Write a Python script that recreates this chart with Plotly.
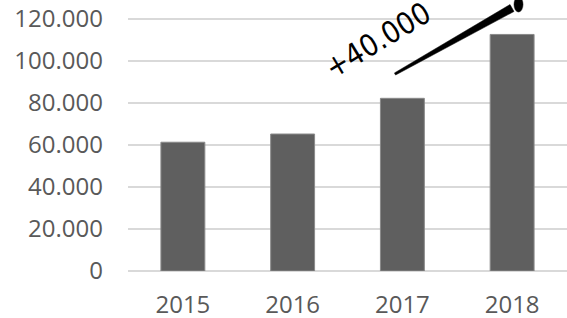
import plotly.graph_objects as go

years = ["2015", "2016", "2017", "2018"]
values = [61300, 65200, 82200, 112600]
y_ticks = [0, 20000, 40000, 60000, 80000, 100000, 120000]
note_text = "+40.000"

W, H = 567, 318
L, R, T, B = 128, 0, 0, 47
PW, PH = W - L - R, H - T - B


def pp(px, py):
    """pixel -> paper coordinates (decoration only)"""
    return (px - L) / PW, (H - B - py) / PH


fig = go.Figure()
fig.add_trace(go.Bar(
    x=years, y=values,
    marker=dict(color="#5f5f5f", line=dict(color="#8a8a8a", width=1)),
    hoverinfo="skip",
))

# tapered hand-drawn stroke
start, end = (395, 74), (512, 8)
dx, dy = end[0] - start[0], end[1] - start[1]
ln = (dx * dx + dy * dy) ** 0.5
nx, ny = -dy / ln, dx / ln
pts = [
    (start[0] + nx * 1.2, start[1] + ny * 1.2),
    (end[0] + nx * 4.0, end[1] + ny * 4.0),
    (end[0] - nx * 4.0, end[1] - ny * 4.0),
    (start[0] - nx * 1.2, start[1] - ny * 1.2),
]
path = "M " + " L ".join("%.4f,%.4f" % pp(*p) for p in pts) + " Z"
fig.add_shape(type="path", path=path, xref="paper", yref="paper",
              fillcolor="black", line=dict(color="black", width=0.5))
bx0, by0 = pp(514, 12)
bx1, by1 = pp(523, -3)
fig.add_shape(type="circle", xref="paper", yref="paper",
              x0=bx0, y0=by0, x1=bx1, y1=by1,
              fillcolor="black", line=dict(color="black", width=0.5))

tx, ty = pp(377, 40)
fig.add_annotation(text=note_text, xref="paper", yref="paper", x=tx, y=ty,
                   xanchor="center", yanchor="middle",
                   showarrow=False, textangle=-31,
                   font=dict(family="DejaVu Sans Condensed, DejaVu Sans", size=30, color="black"))

fig.update_layout(
    width=W, height=H,
    margin=dict(l=L, r=R, t=T, b=B),
    paper_bgcolor="white", plot_bgcolor="white",
    separators=",.",
    bargap=0.6,
    showlegend=False,
    font=dict(family="Open Sans", color="#595959", size=24),
)
fig.update_xaxes(type="category", range=[-0.5, 3.5], showgrid=False,
                 showline=False, ticks="", ticklabelstandoff=17, automargin=False,
                 tickfont=dict(size=24, color="#595959"))
fig.update_yaxes(range=[0, 129000], tickvals=y_ticks, tickformat=",d",
                 showgrid=True, gridcolor="#d9d9d9", gridwidth=1.5,
                 zeroline=True, zerolinecolor="#d9d9d9", zerolinewidth=1.5,
                 showline=False, ticks="", ticklabelstandoff=24, automargin=False,
                 tickfont=dict(size=24, color="#595959"))

fig.write_html("out.html", config={"displayModeBar": False},
               post_script="document.body.style.margin='0';document.body.style.overflow='hidden';")
